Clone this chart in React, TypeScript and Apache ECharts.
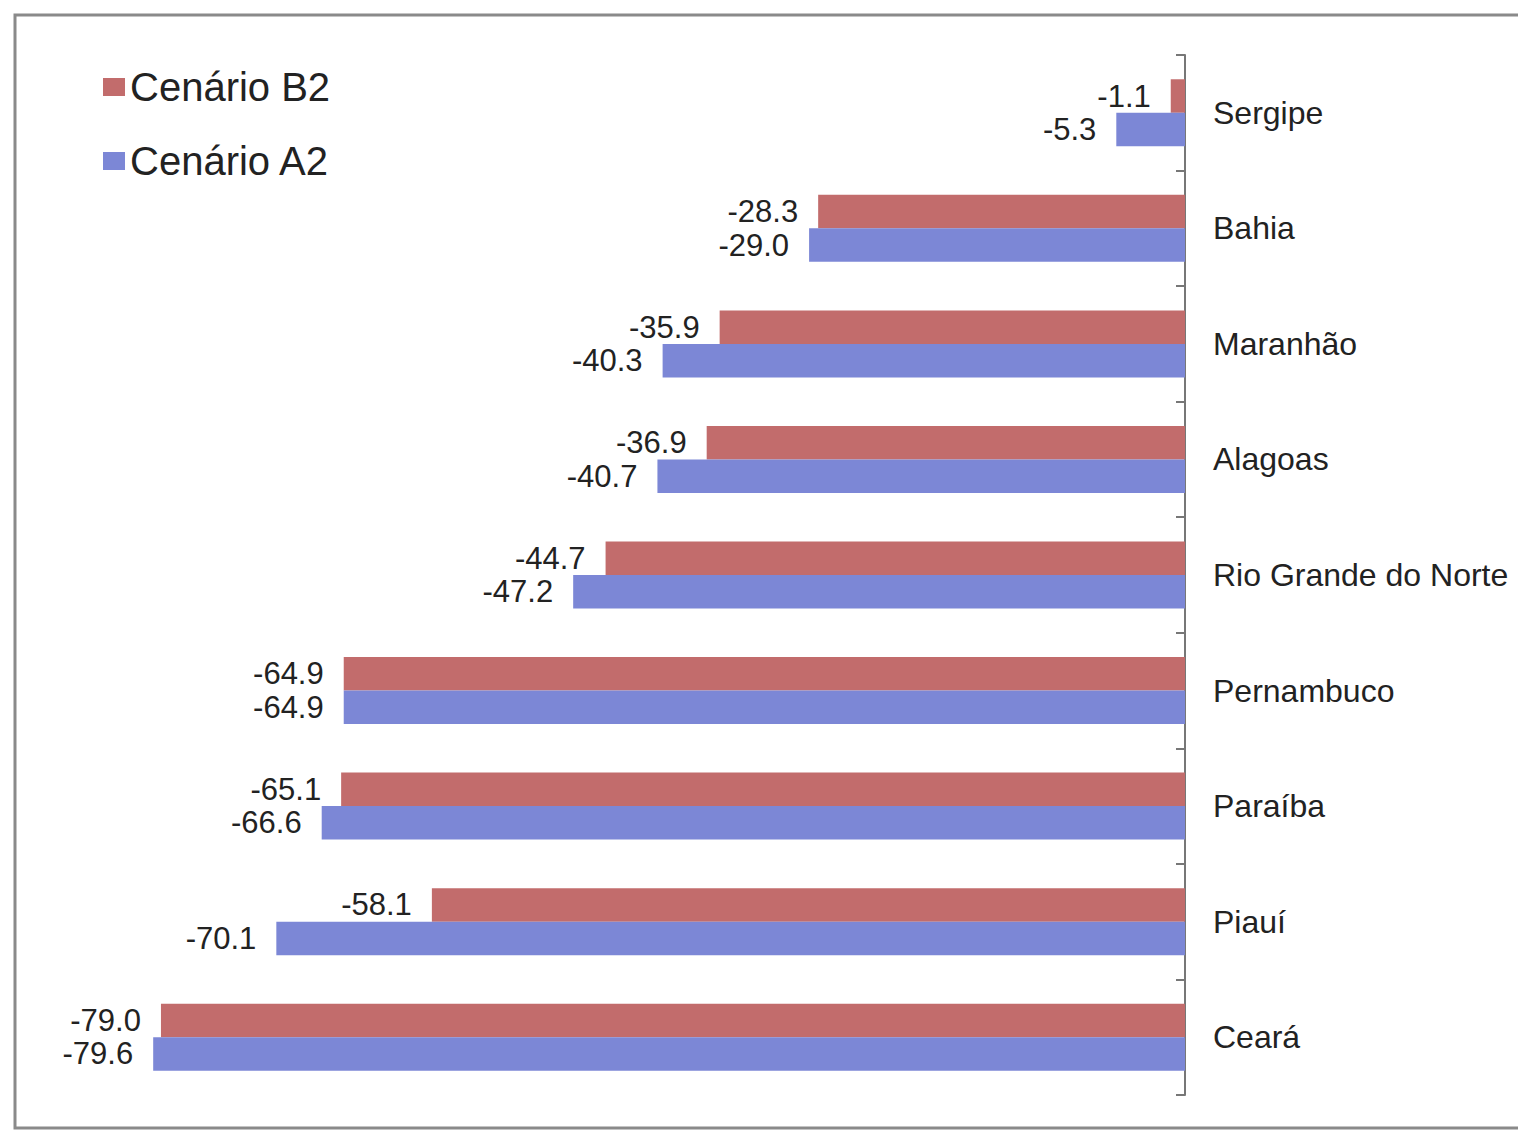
import React, { useEffect, useRef } from "react";
import * as echarts from "echarts";

const categories = ["Sergipe", "Bahia", "Maranhão", "Alagoas", "Rio Grande do Norte", "Pernambuco", "Paraíba", "Piauí", "Ceará"];
const cenarioB2 = [-1.1, -28.3, -35.9, -36.9, -44.7, -64.9, -65.1, -58.1, -79.0];
const cenarioA2 = [-5.3, -29.0, -40.3, -40.7, -47.2, -64.9, -66.6, -70.1, -79.6];
const seriesNames = ["Cenário B2", "Cenário A2"];

export default function App() {
  const ref = useRef<HTMLDivElement>(null);
  useEffect(() => {
    if (!ref.current) return;
    const chart = echarts.init(ref.current, null, { renderer: "svg" });
    const labelCfg = {
      show: true,
      position: "left" as const,
      distance: 20,
      fontSize: 31,
      fontFamily: "Liberation Sans, Arial, sans-serif",
      color: "#222",
      formatter: (p: any) => Number(p.value).toFixed(1),
    };
    chart.setOption({
      animation: false,
      backgroundColor: "#ffffff",
      graphic: [
        {
          type: "rect",
          shape: { x: 15, y: 15, width: 1530, height: 1113 },
          style: { fill: "none", stroke: "#8a8a8a", lineWidth: 3 },
          silent: true,
          z: -1,
        },
      ],
      legend: {
        orient: "vertical",
        left: 98,
        top: 62,
        itemWidth: 22,
        itemHeight: 18,
        itemGap: 34,
        icon: "rect",
        textStyle: { fontSize: 40, color: "#222", fontFamily: "Liberation Sans, Arial, sans-serif" },
        data: seriesNames,
      },
      grid: { left: 148, right: 333, top: 55, bottom: 40, containLabel: false },
      xAxis: {
        type: "value",
        min: -80,
        max: 0,
        show: false,
      },
      yAxis: {
        type: "category",
        data: categories,
        inverse: true,
        position: "right",
        axisLine: { show: true, lineStyle: { color: "#777", width: 2 } },
        axisTick: { show: true, inside: true, length: 9, lineStyle: { color: "#777", width: 2 } },
        axisLabel: {
          margin: 28,
          fontSize: 32,
          color: "#222",
          fontFamily: "Liberation Sans, Arial, sans-serif",
        },
        splitLine: { show: false },
      },
      series: [
        {
          name: seriesNames[0],
          type: "bar",
          data: cenarioB2,
          barGap: "0%",
          barCategoryGap: "42%",
          itemStyle: { color: "#c26c6c" },
          label: labelCfg,
        },
        {
          name: seriesNames[1],
          type: "bar",
          data: cenarioA2,
          barGap: "0%",
          barCategoryGap: "42%",
          itemStyle: { color: "#7c87d6" },
          label: labelCfg,
        },
      ],
    });
    return () => chart.dispose();
  }, []);
  return <div ref={ref} style={{ position: "fixed", left: 0, top: 0, width: 1518, height: 1135 }} />;
}
